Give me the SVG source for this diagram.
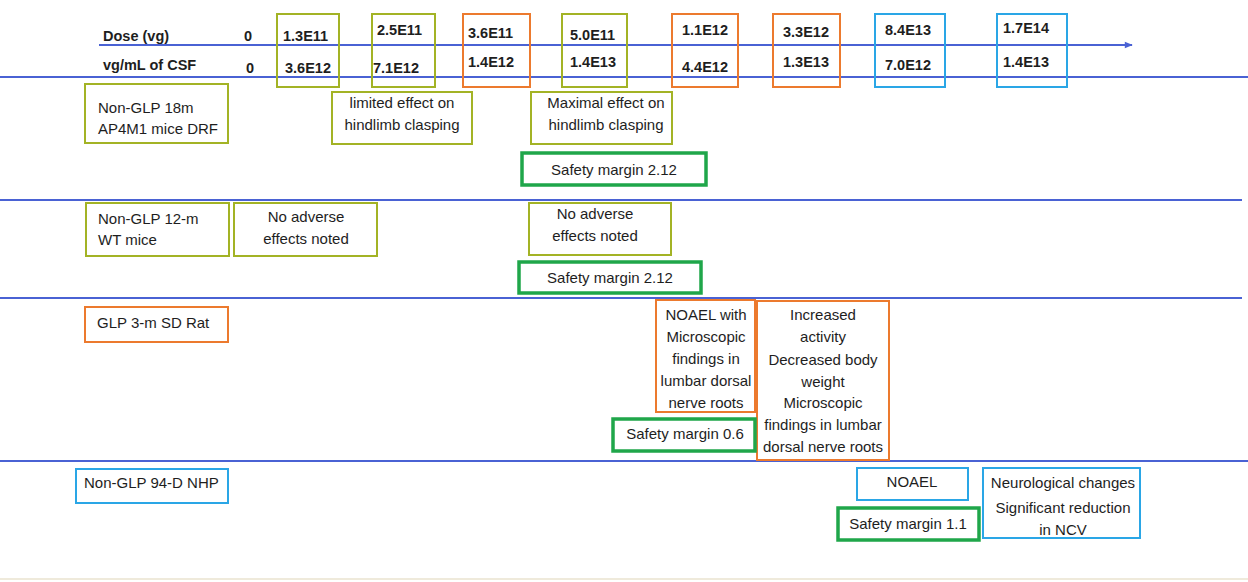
<svg xmlns="http://www.w3.org/2000/svg" width="1248" height="582" viewBox="0 0 1248 582">
<defs>
<marker id="arr" viewBox="0 0 10 10" refX="9" refY="5" markerWidth="10" markerHeight="8" markerUnits="userSpaceOnUse" orient="auto"><path d="M0,1 L10,5 L0,9 z" fill="#4a62d4"/></marker>
<style>
text{font-family:"Liberation Sans",Arial,sans-serif;font-size:15px;fill:#1e1e1e}
.h{font-weight:bold;font-size:14.5px}
.c{text-anchor:middle}
.ol{fill:none;stroke:#a3b325;stroke-width:2}
.or{fill:none;stroke:#ec7a2e;stroke-width:2}
.bl{fill:none;stroke:#2aa6e6;stroke-width:2}
.gr{fill:none;stroke:#1fa64a;stroke-width:3.5}
.ln{stroke:#4a62d4;stroke-width:2;fill:none}
</style>
</defs>
<rect width="1248" height="582" fill="#ffffff"/>
<g id="connectors">
<line class="ln" x1="99" y1="45" x2="1132" y2="45" marker-end="url(#arr)"/>
<line class="ln" x1="0" y1="77" x2="1248" y2="77"/>
<line class="ln" x1="0" y1="200" x2="1242" y2="200"/>
<line class="ln" x1="0" y1="298" x2="1242" y2="298"/>
<line class="ln" x1="0" y1="461" x2="1248" y2="461"/>
<line x1="0" y1="579" x2="1248" y2="579" stroke="#efeadb" stroke-width="2"/>
</g>
<g id="header-labels">
<text class="h" x="103" y="41">Dose (vg)</text>
<text class="h" x="103" y="70">vg/mL of CSF</text>
<text class="h" x="244" y="41">0</text>
<text class="h" x="246" y="73">0</text>
</g>
<g id="dose1"><rect class="ol" x="277" y="14" width="62" height="73"/><text class="h" x="283" y="41">1.3E11</text><text class="h" x="285" y="73">3.6E12</text></g>
<g id="dose2"><rect class="ol" x="372" y="14" width="63" height="73"/><text class="h" x="377" y="35">2.5E11</text><text class="h" x="373" y="73">7.1E12</text></g>
<g id="dose3"><rect class="or" x="463" y="14" width="67" height="73"/><text class="h" x="468" y="38">3.6E11</text><text class="h" x="468" y="67">1.4E12</text></g>
<g id="dose4"><rect class="ol" x="562" y="14" width="65" height="73"/><text class="h" x="570" y="40">5.0E11</text><text class="h" x="570" y="67">1.4E13</text></g>
<g id="dose5"><rect class="or" x="672" y="14" width="66" height="73"/><text class="h" x="682" y="35">1.1E12</text><text class="h" x="682" y="72">4.4E12</text></g>
<g id="dose6"><rect class="or" x="773" y="14" width="67" height="73"/><text class="h" x="783" y="37">3.3E12</text><text class="h" x="783" y="67">1.3E13</text></g>
<g id="dose7"><rect class="bl" x="875" y="14" width="70" height="73"/><text class="h" x="885" y="35">8.4E13</text><text class="h" x="885" y="70">7.0E12</text></g>
<g id="dose8"><rect class="bl" x="997" y="14" width="70" height="73"/><text class="h" x="1003" y="33">1.7E14</text><text class="h" x="1003" y="67">1.4E13</text></g>

<g id="row1-study"><rect class="ol" x="85" y="84" width="143" height="59"/><text x="98" y="113">Non-GLP 18m</text><text x="98" y="134">AP4M1 mice DRF</text></g>
<g id="row1-limited"><rect class="ol" x="332" y="92" width="140" height="52"/><text class="c" x="402" y="108">limited effect on</text><text class="c" x="402" y="130">hindlimb clasping</text></g>
<g id="row1-maximal"><rect class="ol" x="531" y="92" width="141" height="52"/><text class="c" x="606" y="108">Maximal effect on</text><text class="c" x="606" y="130">hindlimb clasping</text></g>
<g id="row1-safety"><rect class="gr" x="522" y="153" width="184" height="32"/><text class="c" x="614" y="175">Safety margin 2.12</text></g>

<g id="row2-study"><rect class="ol" x="86" y="203" width="143" height="53"/><text x="98" y="224">Non-GLP 12-m</text><text x="98" y="245">WT mice</text></g>
<g id="row2-noadverse1"><rect class="ol" x="234" y="203" width="143" height="53"/><text class="c" x="306" y="222">No adverse</text><text class="c" x="306" y="244">effects noted</text></g>
<g id="row2-noadverse2"><rect class="ol" x="529" y="203" width="142" height="52"/><text class="c" x="595" y="219">No adverse</text><text class="c" x="595" y="241">effects noted</text></g>
<g id="row2-safety"><rect class="gr" x="519" y="262" width="182" height="31"/><text class="c" x="610" y="283">Safety margin 2.12</text></g>

<g id="row3-study"><rect class="or" x="85" y="307" width="143" height="35"/><text x="97" y="328">GLP 3-m SD Rat</text></g>
<g id="row3-noael"><rect class="or" x="656" y="300" width="99" height="112"/><text class="c" x="706" y="320">NOAEL with</text><text class="c" x="706" y="342">Microscopic</text><text class="c" x="706" y="364">findings in</text><text class="c" x="706" y="386">lumbar dorsal</text><text class="c" x="706" y="408">nerve roots</text></g>
<g id="row3-effects"><rect class="or" x="757" y="301" width="132" height="159"/><text class="c" x="823" y="320">Increased</text><text class="c" x="823" y="342">activity</text><text class="c" x="823" y="365">Decreased body</text><text class="c" x="823" y="387">weight</text><text class="c" x="823" y="408">Microscopic</text><text class="c" x="823" y="430">findings in lumbar</text><text class="c" x="823" y="452">dorsal nerve roots</text></g>
<g id="row3-safety"><rect class="gr" x="613" y="419" width="142" height="32"/><text class="c" x="685" y="439">Safety margin 0.6</text></g>

<g id="row4-study"><rect class="bl" x="76" y="469" width="152" height="34"/><text x="84" y="488">Non-GLP 94-D NHP</text></g>
<g id="row4-noael"><rect class="bl" x="857" y="468" width="111" height="32"/><text class="c" x="912" y="487">NOAEL</text></g>
<g id="row4-effects"><rect class="bl" x="983" y="468" width="157" height="70"/><text class="c" x="1063" y="488">Neurological changes</text><text class="c" x="1063" y="513">Significant reduction</text><text class="c" x="1063" y="535">in NCV</text></g>
<g id="row4-safety"><rect class="gr" x="838" y="508" width="141" height="32"/><text class="c" x="908" y="529">Safety margin 1.1</text></g>
</svg>
